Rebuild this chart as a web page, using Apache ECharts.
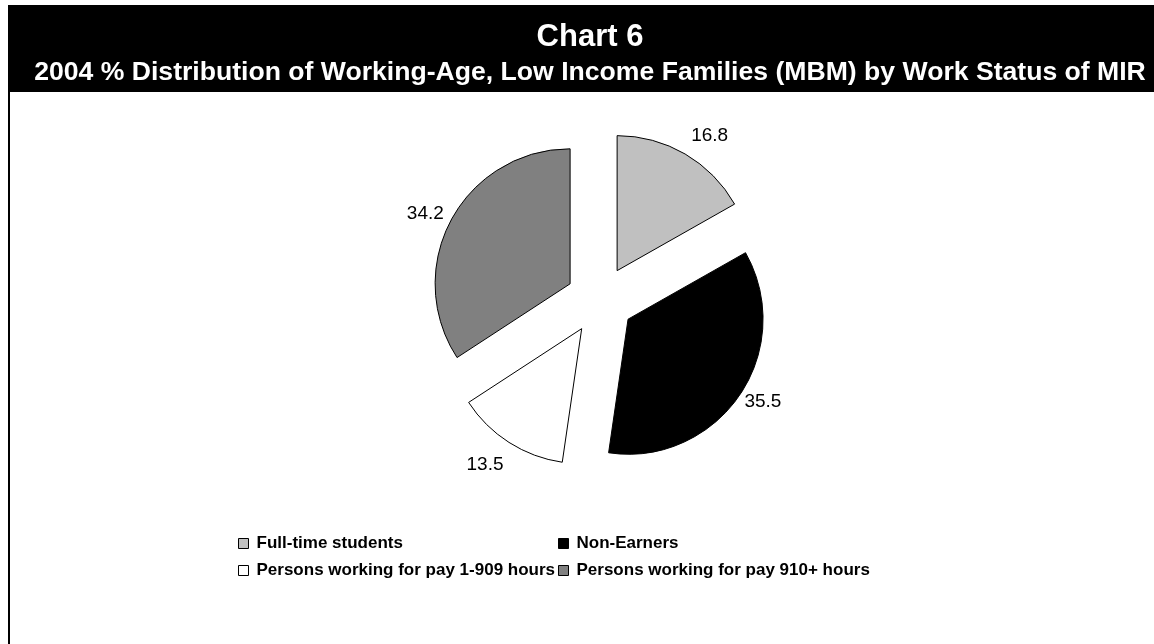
<!DOCTYPE html>
<html>
<head>
<meta charset="utf-8">
<script src="https://cdn.jsdelivr.net/npm/echarts@6/dist/echarts.min.js"></script>
<style>
  html, body { margin: 0; padding: 0; background: #fff; }
  #chart { width: 1154px; height: 644px; }
</style>
</head>
<body>
<div id="chart"></div>
<script>
// categories and values
const categories = [
  'Full-time students',
  'Non-Earners',
  'Persons working for pay 1-909 hours',
  'Persons working for pay 910+ hours'
];
const values = [16.8, 35.5, 13.5, 34.2];
const colors = ['#c0c0c0', '#000000', '#ffffff', '#808080'];

const chart = echarts.init(document.getElementById('chart'));

const font = 'Liberation Sans, Arial, sans-serif';

// small nudges so value labels sit where Excel put them
const labelNudge = [[-5, -8], [-10, 0], [6, 12], [8, 0]];

const legendBase = {
  orient: 'vertical',
  top: 530,
  itemWidth: 10,
  itemHeight: 10,
  itemGap: 10,
  icon: 'rect',
  selectedMode: false,
  itemStyle: { borderColor: '#000', borderWidth: 1 },
  textStyle: { fontFamily: font, fontSize: 17, fontWeight: 'bold', color: '#000', padding: [0, 0, 0, 3] }
};

const option = {
  animation: false,
  backgroundColor: '#fff',
  graphic: [
    { type: 'rect', shape: { x: 8, y: 5, width: 1146, height: 87 }, style: { fill: '#000' }, silent: true },
    { type: 'rect', shape: { x: 8, y: 5, width: 2, height: 639 }, style: { fill: '#000' }, silent: true }
  ],
  title: [
    {
      text: 'Chart 6',
      left: 585,
      top: 17,
      textAlign: 'center',
      textStyle: { fontFamily: font, fontSize: 31, fontWeight: 'bold', color: '#fff' }
    },
    {
      text: '2004 % Distribution of Working-Age, Low Income Families (MBM) by Work Status of MIR',
      left: 585,
      top: 54,
      textAlign: 'center',
      textStyle: { fontFamily: font, fontSize: 26.6, fontWeight: 'bold', color: '#fff' }
    }
  ],
  legend: [
    Object.assign({}, legendBase, { left: 233, data: [categories[0], categories[2]] }),
    Object.assign({}, legendBase, { left: 553, data: [categories[1], categories[3]] })
  ],
  series: [
    {
      type: 'pie',
      center: [600, 300],
      radius: 135,
      startAngle: 90,
      clockwise: true,
      selectedMode: 'multiple',
      selectedOffset: 34,
      avoidLabelOverlap: false,
      itemStyle: { borderColor: '#000', borderWidth: 1 },
      select: { itemStyle: { borderColor: '#000', borderWidth: 1 } },
      emphasis: { scale: false },
      label: {
        show: true,
        position: 'outside',
        fontFamily: font,
        fontSize: 19,
        color: '#000',
        formatter: p => p.value.toFixed(1)
      },
      labelLine: { show: false, length: 12, length2: 0 },
      labelLayout: p => ({ dx: labelNudge[p.dataIndex][0], dy: labelNudge[p.dataIndex][1] }),
      data: categories.map((name, i) => ({
        name: name,
        value: values[i],
        selected: true,
        itemStyle: { color: colors[i] }
      }))
    }
  ]
};

chart.setOption(option);
</script>
</body>
</html>
